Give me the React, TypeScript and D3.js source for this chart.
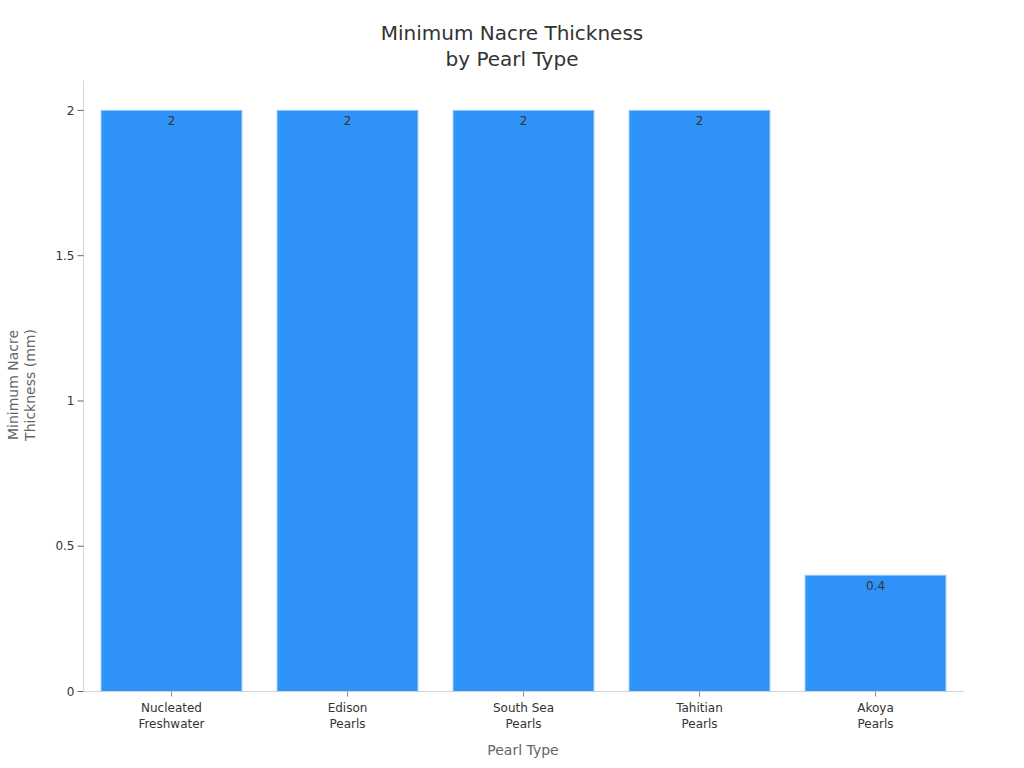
import React from "react";
import * as d3 from "d3";

const categories: string[][] = [
  ["Nucleated", "Freshwater"],
  ["Edison", "Pearls"],
  ["South Sea", "Pearls"],
  ["Tahitian", "Pearls"],
  ["Akoya", "Pearls"],
];
const values: number[] = [2, 2, 2, 2, 0.4];
const yTicks: number[] = [0, 0.5, 1, 1.5, 2];
const titleLines = ["Minimum Nacre Thickness", "by Pearl Type"];
const yTitleLines = ["Minimum Nacre", "Thickness (mm)"];
const xTitle = "Pearl Type";

const W = 1024;
const H = 768;
const left = 83.5;
const right = 963.5;
const top = 80.5;
const bottom = 691.5;
const font = "DejaVu Sans, sans-serif";

export default function App() {
  const keys = categories.map((c) => c.join(" "));
  const x = d3.scaleBand<string>().domain(keys).range([left, right]).paddingInner(0.2).paddingOuter(0.1);
  const y = d3.scaleLinear().domain([0, 2.103]).range([bottom, top]);
  const fmt = (v: number) => d3.format("~g")(v);

  return (
    <svg width={W} height={H} style={{ position: "absolute", left: 0, top: 0, background: "#fff" }} fontFamily={font}>
      <text x={512} y={40} textAnchor="middle" fontSize={20} fill="#333">
        {titleLines.map((l, i) => (
          <tspan key={i} x={512} dy={i === 0 ? 0 : 26}>{l}</tspan>
        ))}
      </text>

      {values.map((v, i) => (
        <g key={i}>
          <rect
            x={x(keys[i])!}
            y={y(v)}
            width={x.bandwidth()}
            height={y(0) - y(v)}
            fill="#2E92F9"
            stroke="#8EC6FB"
            strokeWidth={1}
          />
          <text x={x(keys[i])! + x.bandwidth() / 2} y={y(v) + 15} textAnchor="middle" fontSize={12} fill="#333">
            {fmt(v)}
          </text>
        </g>
      ))}

      <line x1={left} x2={left} y1={top} y2={bottom} stroke="#d3d3d3" strokeWidth={1} />
      {yTicks.map((t) => (
        <g key={t}>
          <line x1={left - 6} x2={left} y1={y(t)} y2={y(t)} stroke="#666" strokeWidth={1} />
          <text x={left - 9} y={y(t)} dy="0.35em" textAnchor="end" fontSize={12} fill="#333">
            {fmt(t)}
          </text>
        </g>
      ))}

      <line x1={left} x2={right} y1={bottom} y2={bottom} stroke="#d3d3d3" strokeWidth={1} />
      {categories.map((c, i) => {
        const cx = x(keys[i])! + x.bandwidth() / 2;
        return (
          <g key={i}>
            <line x1={cx} x2={cx} y1={bottom} y2={bottom + 5} stroke="#888" strokeWidth={1} />
            <text x={cx} y={712} textAnchor="middle" fontSize={12} fill="#333">
              {c.map((l, j) => (
                <tspan key={j} x={cx} dy={j === 0 ? 0 : 16}>{l}</tspan>
              ))}
            </text>
          </g>
        );
      })}

      <text x={523} y={755} textAnchor="middle" fontSize={14} fill="#666">{xTitle}</text>
      <text transform={`translate(18,${385}) rotate(-90)`} textAnchor="middle" fontSize={14} fill="#666">
        {yTitleLines.map((l, i) => (
          <tspan key={i} x={0} dy={i === 0 ? 0 : 17}>{l}</tspan>
        ))}
      </text>
    </svg>
  );
}
